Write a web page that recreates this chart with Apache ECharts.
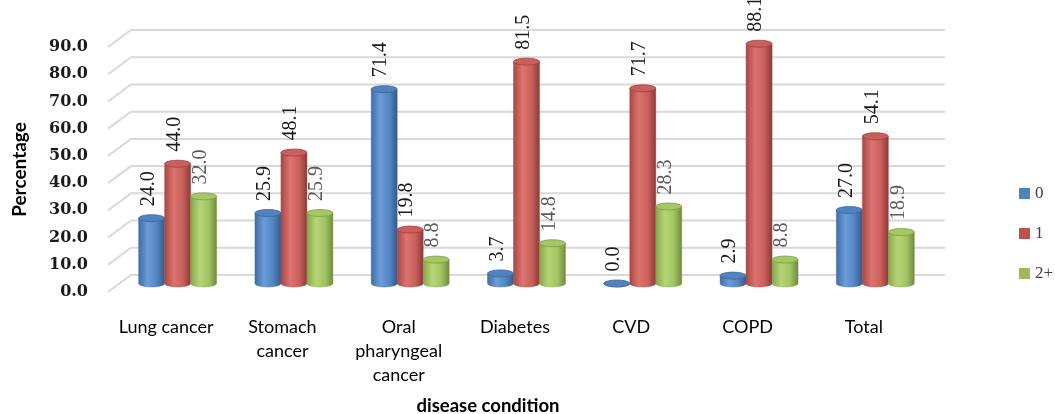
<!DOCTYPE html>
<html>
<head>
<meta charset="utf-8">
<title>Disease condition chart</title>
<script src="https://cdn.jsdelivr.net/npm/echarts@6/dist/echarts.min.js"></script>
<style>
  html, body { margin: 0; padding: 0; background: #fff; }
  #chart { width: 1055px; height: 414px; }
</style>
</head>
<body>
<div id="chart"></div>
<script>
// Categories along the x axis
const categories = ['Lung cancer', 'Stomach\ncancer', 'Oral\npharyngeal\ncancer', 'Diabetes', 'CVD', 'COPD', 'Total'];
// Series names
const seriesNames = ['0', '1', '2+'];
// Percentages per series
const values0 = [24.0, 25.9, 71.4, 3.7, 0.0, 2.9, 27.0];
const values1 = [44.0, 48.1, 19.8, 81.5, 71.7, 88.1, 54.1];
const values2 = [32.0, 25.9, 8.8, 14.8, 28.3, 8.8, 18.9];
// Value-axis ticks
const yTickValues = [0, 10, 20, 30, 40, 50, 60, 70, 80, 90];

// Depth of the pseudo-3D box (back wall offset) in pixels
const DX = 23, DY = 17;
const BAR_W = 26, RY = 3.5;

const palettes = [
  { main: '#4f81bd', stops: ['#3f6da6', '#6a9cd8', '#5285c2', '#35598a'], top: '#5283c0', edge: '#3a6699', label: '#1a1a1a' },
  { main: '#c0504d', stops: ['#a94643', '#db736f', '#c9605c', '#8c3835'], top: '#cc5f5b', edge: '#9c3f3c', label: '#1a1a1a' },
  { main: '#9bbb59', stops: ['#86a54a', '#b6d477', '#a2c363', '#6e8a3c'], top: '#a6c765', edge: '#7c9a44', label: '#595959' }
];

function cylinderRenderer(k) {
  const pal = palettes[k];
  return function (params, api) {
    const idx = api.value(0);
    const v = api.value(1);
    const top = api.coord([idx, v]);
    const base = api.coord([idx, 0]);
    const cx = top[0] + (k - 1) * BAR_W + DX / 2;
    const yTop = top[1] - DY / 2;
    const yBot = base[1] - DY / 2;
    const rx = BAR_W / 2;
    const xl = cx - rx, xr = cx + rx;
    const body = 'M' + xl + ' ' + yTop + ' L' + xl + ' ' + yBot +
      ' A' + rx + ' ' + RY + ' 0 0 0 ' + xr + ' ' + yBot +
      ' L' + xr + ' ' + yTop + ' Z';
    const cap = 'M' + xl + ' ' + yTop +
      ' A' + rx + ' ' + RY + ' 0 1 0 ' + xr + ' ' + yTop +
      ' A' + rx + ' ' + RY + ' 0 1 0 ' + xl + ' ' + yTop + ' Z';
    return {
      type: 'group',
      children: [
        {
          type: 'path',
          shape: { pathData: body },
          style: {
            fill: {
              type: 'linear', x: 0, y: 0, x2: 1, y2: 0,
              colorStops: [
                { offset: 0, color: pal.stops[0] },
                { offset: 0.35, color: pal.stops[1] },
                { offset: 0.7, color: pal.stops[2] },
                { offset: 1, color: pal.stops[3] }
              ]
            },
            stroke: pal.edge,
            lineWidth: 0.4
          }
        },
        {
          type: 'path',
          shape: { pathData: cap },
          style: { fill: pal.top, stroke: pal.edge, lineWidth: 0.8 }
        },
        {
          type: 'text',
          x: cx - 3,
          y: yTop - 12,
          rotation: Math.PI / 2,
          style: {
            text: v.toFixed(1),
            fill: pal.label,
            font: '20px "Liberation Serif"',
            align: 'left',
            verticalAlign: 'middle'
          }
        }
      ]
    };
  };
}

const seriesValues = [values0, values1, values2];

const chart = echarts.init(document.getElementById('chart'), null, { renderer: 'canvas' });

chart.setOption({
  animation: false,
  backgroundColor: '#ffffff',
  grid: { left: 108, right: 133, top: 47, bottom: 122, outerBoundsMode: 'none', containLabel: false },
  legend: {
    data: seriesNames,
    orient: 'vertical',
    left: 1019,
    top: 185,
    padding: 0,
    itemWidth: 11,
    itemHeight: 11,
    itemGap: 23,
    icon: 'rect',
    textStyle: { fontFamily: 'Liberation Serif', fontSize: 17, color: '#404040' }
  },
  xAxis: {
    type: 'category',
    data: categories,
    name: 'disease condition',
    nameLocation: 'middle',
    nameGap: 105,
    nameTextStyle: { fontFamily: 'Lato', fontWeight: 'bold', fontSize: 18.5, color: '#000', padding: [0, 54, 0, 0] },
    axisLine: { show: false },
    axisTick: { show: false },
    axisLabel: { interval: 0, margin: 23, fontFamily: 'Lato', fontSize: 18, lineHeight: 24, color: '#000' },
    splitLine: { show: false }
  },
  yAxis: {
    type: 'value',
    min: 0,
    max: 90,
    interval: 10,
    name: 'Percentage',
    nameLocation: 'middle',
    nameRotate: 90,
    nameGap: 79,
    nameTextStyle: { fontFamily: 'Lato', fontWeight: 'bold', fontSize: 19, color: '#000' },
    axisLine: { show: false },
    axisTick: { show: false },
    splitLine: { show: false },
    axisLabel: {
      margin: 20,
      fontFamily: 'DejaVu Serif',
      fontWeight: 'bold',
      fontSize: 16,
      color: '#1a1a1a',
      formatter: function (v) { return v.toFixed(1); }
    }
  },
  series: [
    {
      name: 'gridlines',
      type: 'custom',
      silent: true,
      z: 1,
      data: yTickValues.map(function (v) { return [0, v]; }),
      renderItem: function (params, api) {
        const cs = params.coordSys;
        const y = api.coord([0, api.value(1)])[1];
        return {
          type: 'polyline',
          shape: { points: [[cs.x, y], [cs.x + DX, y - DY], [cs.x + cs.width + DX, y - DY]] },
          style: { stroke: '#d9d9d9', lineWidth: 2, fill: null }
        };
      }
    }
  ].concat(seriesNames.map(function (name, k) {
    return {
      name: name,
      type: 'custom',
      z: 3,
      itemStyle: { color: palettes[k].main },
      data: seriesValues[k].map(function (v, i) { return [i, v]; }),
      encode: { x: 0, y: 1 },
      renderItem: cylinderRenderer(k)
    };
  }))
});
</script>
</body>
</html>
